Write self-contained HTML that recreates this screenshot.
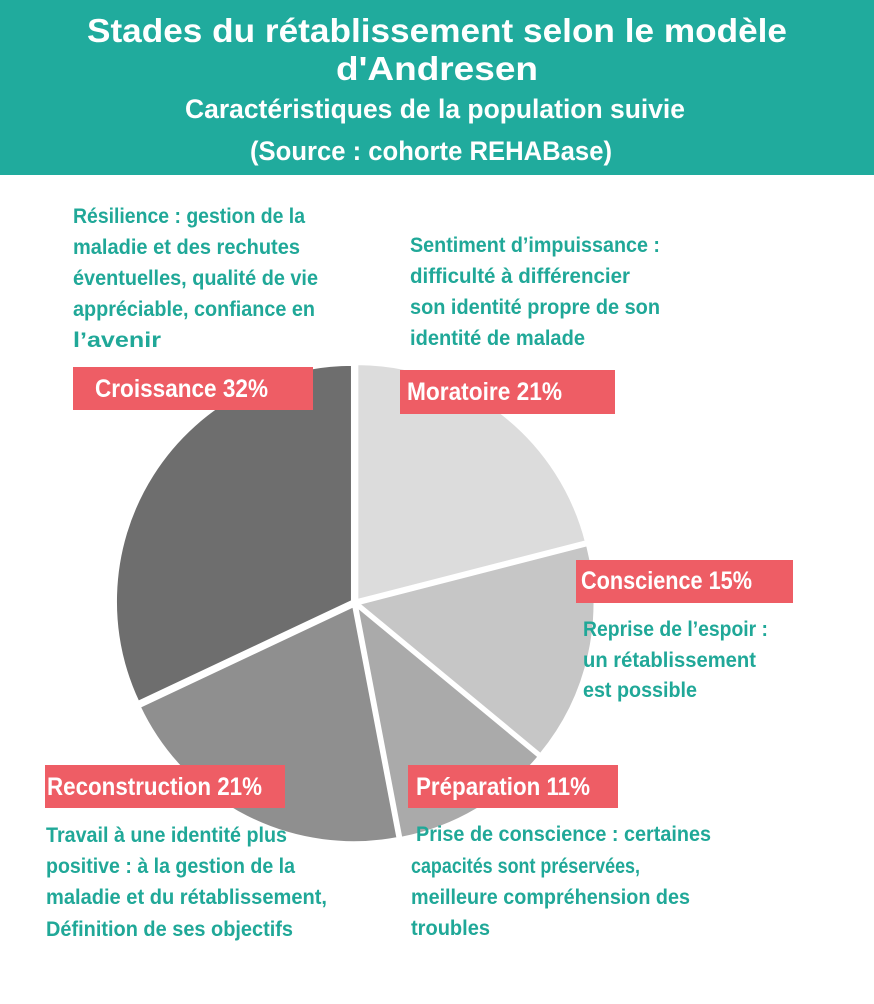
<!DOCTYPE html>
<html><head><meta charset="utf-8"><style>
html,body{margin:0;padding:0;background:#fff;}
svg{display:block;font-family:"Liberation Sans Narrow","Liberation Sans",sans-serif;font-weight:bold;}
</style></head><body>
<svg id="chart" width="874" height="1004" viewBox="0 0 874 1004">
<rect x="0" y="0" width="874" height="175" fill="#20AB9D"/>
<g fill="#fff" text-anchor="middle">
<text x="437" y="42" font-size="33" font-family="Liberation Sans, sans-serif" textLength="700" lengthAdjust="spacingAndGlyphs">Stades du rétablissement selon le modèle</text>
<text x="437" y="80" font-size="33" font-family="Liberation Sans, sans-serif" textLength="202" lengthAdjust="spacingAndGlyphs">d'Andresen</text>
<text x="435" y="118" font-size="27" textLength="500" lengthAdjust="spacingAndGlyphs">Caractéristiques de la population suivie</text>
<text x="431" y="160" font-size="27" textLength="362" lengthAdjust="spacingAndGlyphs">(Source : cohorte REHABase)</text>
</g>
<g id="pie"></g>
<g id="labels"></g>
<g id="notes" fill="#20A898" font-size="21"></g>
</svg>
<script>
const categories = ["Moratoire","Conscience","Préparation","Reconstruction","Croissance"];
const values = [21,15,11,21,32];
const colors = ["#dcdcdc","#c6c6c6","#aaaaaa","#8f8f8f","#6e6e6e"];
const NS="http://www.w3.org/2000/svg";
const cx=355, cy=603, r=237;
function pt(a,rr,ox,oy){const t=a*Math.PI/180;return [cx+ox+rr*Math.sin(t), cy+oy-rr*Math.cos(t)];}
const total=values.reduce((a,b)=>a+b,0);
let start=0;
const pie=document.getElementById('pie');
values.forEach((v,i)=>{
  const sweep=v/total*360, end=start+sweep, mid=start+sweep/2;
  const ox=3*Math.sin(mid*Math.PI/180), oy=-3*Math.cos(mid*Math.PI/180);
  const p0=pt(start,r,ox,oy), p1=pt(end,r,ox,oy);
  const path=document.createElementNS(NS,'path');
  path.setAttribute('d',`M${cx+ox},${cy+oy} L${p0[0]},${p0[1]} A${r},${r} 0 ${sweep>180?1:0} 1 ${p1[0]},${p1[1]} Z`);
  path.setAttribute('fill',colors[i]);
  path.setAttribute('stroke','#fff');
  path.setAttribute('stroke-width','3');
  
  
  pie.appendChild(path);
  start=end;
});
const boxes=[[400,370,215,44,407,400,155],[576,560,217,43,581,589,171],[408,765,210,43,416,795,174],[45,765,240,43,47,795,215],[73,367,240,43,95,397,173]];
const lg=document.getElementById('labels');
categories.forEach((c,i)=>{
  const b=boxes[i];
  const rc=document.createElementNS(NS,'rect');
  rc.setAttribute('x',b[0]);rc.setAttribute('y',b[1]);rc.setAttribute('width',b[2]);rc.setAttribute('height',b[3]);
  rc.setAttribute('fill','#EE5D65');
  
  
  lg.appendChild(rc);
  const t=document.createElementNS(NS,'text');
  t.setAttribute('x',b[4]);t.setAttribute('y',b[5]);t.setAttribute('fill','#fff');t.setAttribute('font-size','25');
  t.setAttribute('textLength',b[6]);t.setAttribute('lengthAdjust','spacingAndGlyphs');
  t.textContent=c+' '+values[i]+'%';
  
  
  lg.appendChild(t);
});
const notes=[
 [73,223,"Résilience : gestion de la",232],[73,254,"maladie et des rechutes",227],[73,285,"éventuelles, qualité de vie",245],[73,316,"appréciable, confiance en",242],[73,347,"l’avenir",88],
 [410,252,"Sentiment d’impuissance :",250],[410,283,"difficulté à différencier",220],[410,314,"son identité propre de son",250],[410,345,"identité de malade",175],
 [583,636,"Reprise de l’espoir :",185],[583,667,"un rétablissement",173],[583,697,"est possible",114],
 [46,842,"Travail à une identité plus",241],[46,873,"positive : à la gestion de la",249],[46,904,"maladie et du rétablissement,",281],[46,936,"Définition de ses objectifs",247],
 [416,841,"Prise de conscience : certaines",295],[411,873,"capacités sont préservées,",229],[411,904,"meilleure compréhension des",279],[411,935,"troubles",79]
];
const ng=document.getElementById('notes');
notes.forEach(n=>{
  const t=document.createElementNS(NS,'text');
  t.setAttribute('x',n[0]);t.setAttribute('y',n[1]);
  t.setAttribute('textLength',n[3]);t.setAttribute('lengthAdjust','spacingAndGlyphs');
  t.textContent=n[2];
  
  
  ng.appendChild(t);
});
</script>
</body></html>
